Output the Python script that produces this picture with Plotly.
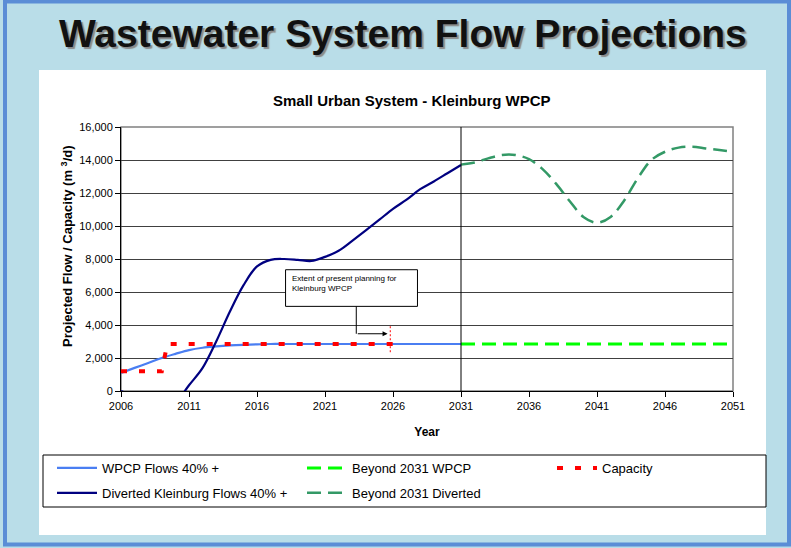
import plotly.graph_objects as go

# ---------------- data ----------------
years_main = list(range(2006, 2032))
wpcp_flows = [1100, 1400, 1700, 2000, 2250, 2480, 2620, 2700, 2760, 2800, 2830,
              2850, 2850, 2850, 2850, 2850, 2850, 2850, 2850, 2850, 2850, 2850,
              2850, 2850, 2850, 2850]
diverted_flows = [0, -350, -800, -1000, -700, 350, 1400, 3000, 4800, 6400, 7550,
                  7950, 8000, 7950, 7880, 8130, 8500, 9100, 9730, 10380, 11040,
                  11600, 12230, 12700, 13200, 13700]

years_beyond = list(range(2031, 2052))
beyond_wpcp = [2850] * 21
beyond_diverted = [13720, 13850, 14100, 14300, 14300, 14050, 13450, 12550, 11500,
                   10550, 10200, 10550, 11550, 12900, 14000, 14500, 14750, 14800,
                   14700, 14600, 14500]

capacity_years = [2006, 2009, 2009.4, 2026]
capacity_vals = [1200, 1200, 2850, 2850]

y_ticks = list(range(0, 16001, 2000))
x_ticks = list(range(2006, 2052, 5))

# ---------------- layout helpers (pixel -> paper) ----------------
W, H = 791, 548
PL, PR, PT, PB = 121, 733, 127, 391
def px(x):
    return (x - PL) / (PR - PL)
def py(y):
    return (PB - y) / (PB - PT)

FONT = "Liberation Sans, Arial, sans-serif"
LEG_FONT = dict(family=FONT, size=13, color="black")

fig = go.Figure()

fig.add_trace(go.Scatter(x=years_main, y=wpcp_flows, mode="lines",
                         name="WPCP Flows 40% +", legend="legend", legendgroup="a",
                         line=dict(color="#4a7ef2", width=2.2, shape="spline")))
fig.add_trace(go.Scatter(x=years_main, y=diverted_flows, mode="lines",
                         name="Diverted Kleinburg Flows 40% +", legend="legend", legendgroup="b",
                         line=dict(color="#000080", width=2.2, shape="spline")))
fig.add_trace(go.Scatter(x=years_beyond, y=beyond_wpcp, mode="lines",
                         name="Beyond 2031 WPCP", legend="legend2", legendgroup="c",
                         line=dict(color="#00ff00", width=3, dash="14px,7px")))
fig.add_trace(go.Scatter(x=years_beyond, y=beyond_diverted, mode="lines",
                         name="Beyond 2031 Diverted", legend="legend2", legendgroup="d",
                         line=dict(color="#339966", width=2.5, dash="14px,7px",
                                   shape="spline")))
fig.add_trace(go.Scatter(x=capacity_years, y=capacity_vals, mode="lines",
                         name="Capacity", legend="legend3", legendgroup="e",
                         line=dict(color="#ff0000", width=4, dash="6px,12px")))

shapes = [
    # slide frame
    dict(type="rect", xref="paper", yref="paper", x0=px(5), x1=px(789), y0=py(544.5), y1=py(1.5),
         line=dict(color="#5b8dd6", width=4), fillcolor="rgba(0,0,0,0)", layer="below"),
    # white panel
    dict(type="rect", xref="paper", yref="paper", x0=px(39), x1=px(766), y0=py(535), y1=py(70),
         line=dict(width=0), fillcolor="white", layer="below"),
    # legend box
    dict(type="rect", xref="paper", yref="paper", x0=px(43), x1=px(766), y0=py(507), y1=py(455),
         line=dict(color="black", width=1), fillcolor="white", layer="below"),
    # plot border (grey)
    dict(type="rect", xref="paper", yref="paper", x0=0, x1=1, y0=0, y1=1,
         line=dict(color="#808080", width=1.5), layer="below"),
    # 2031 divider
    dict(type="line", xref="x", yref="y", x0=2031, x1=2031, y0=0, y1=16000,
         line=dict(color="black", width=1)),
    # callout box
    dict(type="rect", xref="x", yref="y", x0=2018.1, x1=2027.8, y0=5130, y1=7350,
         line=dict(color="black", width=1), fillcolor="white", layer="above"),
    # connector
    dict(type="line", xref="x", yref="y", x0=2023.3, x1=2023.3, y0=5130, y1=3470,
         line=dict(color="black", width=1)),
    # red planning-extent marker
    dict(type="line", xref="x", yref="y", x0=2025.8, x1=2025.8, y0=2350, y1=4050,
         line=dict(color="#ff0000", width=1, dash="2px,2px")),
]

TITLE_FONT = "Liberation Sans, Arial, sans-serif"
annotations = [
    # slide title (with drop shadow)
    dict(text="<b>Wastewater System Flow Projections</b>", xref="paper", yref="paper",
         x=px(403), y=py(33), xanchor="center", yanchor="middle", showarrow=False,
         font=dict(family=TITLE_FONT, size=39, color="#111111",
                   shadow="2px 2px 1px #8a8a8a")),
    # chart title
    dict(text="<b>Small Urban System - Kleinburg WPCP</b>", xref="paper", yref="paper",
         x=px(412), y=py(100), xanchor="center", yanchor="middle", showarrow=False,
         font=dict(family=FONT, size=15, color="black")),
    # y axis title
    dict(text="<b>Projected Flow / Capacity (m <sup>3</sup>/d)</b>", xref="paper", yref="paper",
         x=px(67), y=py(246), xanchor="center", yanchor="middle", textangle=-90, showarrow=False,
         font=dict(family=FONT, size=13, color="black")),
    # callout text
    dict(text="Extent of present planning for<br>Kleinburg WPCP", xref="x", yref="y",
         x=2018.4, y=7200, xanchor="left", yanchor="top", align="left", showarrow=False,
         font=dict(family=FONT, size=8, color="black")),
    # arrow
    dict(text="", xref="x", yref="y", x=2025.6, y=3470, axref="x", ayref="y",
         ax=2023.3, ay=3470, showarrow=True, arrowhead=2, arrowsize=1, arrowwidth=1,
         arrowcolor="black"),
]

legend_common = dict(orientation="v", xanchor="left", yanchor="top", y=py(453),
                     bgcolor="rgba(0,0,0,0)", borderwidth=0, itemwidth=40,
                     traceorder="grouped", tracegroupgap=5, font=LEG_FONT)

fig.update_layout(
    width=W, height=H,
    margin=dict(l=PL, r=W - PR, t=PT, b=H - PB),
    paper_bgcolor="#b9dde8",
    plot_bgcolor="white",
    font=dict(family=FONT, size=11, color="black"),
    shapes=shapes,
    annotations=annotations,
    showlegend=True,
    legend=dict(x=px(52), **legend_common),
    legend2=dict(x=px(302), **legend_common),
    legend3=dict(x=px(552), **legend_common),
)

fig.update_xaxes(range=[2006, 2051], tickmode="array", tickvals=x_ticks,
                 ticktext=[str(v) for v in x_ticks],
                 showgrid=False, zeroline=False, showline=True, linecolor="black", linewidth=1,
                 ticks="outside", ticklen=5, tickcolor="black",
                 tickfont=dict(family=FONT, size=11, color="black"),
                 title=dict(text="<b>Year</b>", standoff=16,
                            font=dict(family=FONT, size=12, color="black")))
fig.update_yaxes(range=[0, 16000], tickmode="array", tickvals=y_ticks,
                 ticktext=[f"{v:,}" for v in y_ticks],
                 showgrid=True, gridcolor="#404040", gridwidth=1, zeroline=False,
                 showline=True, linecolor="black", linewidth=1,
                 ticks="outside", ticklen=5, tickcolor="black",
                 tickfont=dict(family=FONT, size=11, color="black"))

fig.write_html("out.html", config={"displayModeBar": False},
               post_script="document.body.style.margin='0';document.body.style.overflow='hidden';")
